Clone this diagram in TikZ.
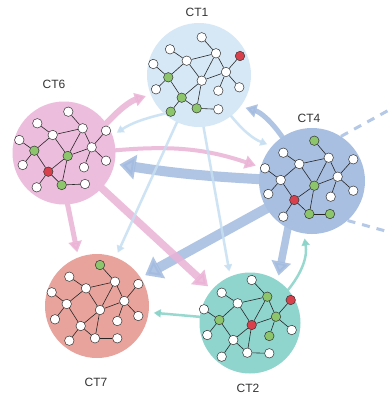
\documentclass[tikz,border=0pt]{standalone}
\usepackage{fontspec}
\setmainfont{Liberation Sans}
\usetikzlibrary{arrows.meta}
\pgfdeclarelayer{back}
\pgfdeclarelayer{bg}
\pgfsetlayers{back,bg,main}
\definecolor{cta}{HTML}{D6E8F6}
\definecolor{ctf}{HTML}{EDBDDD}
\definecolor{ctd}{HTML}{A8BFE1}
\definecolor{ctg}{HTML}{E8A39C}
\definecolor{ctb}{HTML}{8FD4CD}
\definecolor{netgreen}{HTML}{8CC56B}
\definecolor{netred}{HTML}{D8414B}
\definecolor{apink}{HTML}{EBB2D6}
\definecolor{ablue}{HTML}{A3BBE0}
\definecolor{alight}{HTML}{C6DFF2}
\definecolor{ateal}{HTML}{86D2C7}
\definecolor{labelgray}{HTML}{333333}
\newcommand\netedges[1]{\foreach \a/\b in {T/A,UL/B,B/A,B/LH,B/C,A/C,A/RH,RT/RH,RH/C,RH/MB,RH/RB,FL/LH,LH/LL,LH/LoH,LoH/C,C/BM,LoH/BL,LoH/BM,BM/BR}{\draw[netedge] (#1\a) -- (#1\b);}}
\newcommand\netnodes[2]{\foreach \n/\x/\y/\c in {#2}{\node[netnode, fill=\c] (#1\n) at (\x,\y) {};}}
\begin{document}
\begin{tikzpicture}[x=1pt,y=-1pt,
  clusterbox/.style={circle, inner sep=0pt},
  netnode/.style={circle, draw=black!80, line width=0.5pt, minimum size=9.5pt, inner sep=0pt},
  netedge/.style={draw=black!85, line width=0.6pt},
  ctlabel/.style={text=labelgray, font=\fontsize{12}{14}\selectfont, inner sep=0pt},
  conn/.style={opacity=.85, shorten <=-4pt, shorten >=5pt},
  arrthick/.style={conn, line width=10pt, -{Triangle[width=24pt,length=16pt]}},
  arrmid/.style={conn, line width=7.5pt, -{Triangle[width=19pt,length=14pt]}},
  arrmed/.style={conn, line width=5pt, -{Triangle[width=13pt,length=11pt]}},
  arrthin/.style={conn, line width=2.5pt, -{Triangle[width=8pt,length=7pt]}},
  dashline/.style={draw=ablue, opacity=.8, line width=3pt, dash pattern=on 8pt off 7pt}]
\begin{pgfonlayer}{back}
\fill[white] (0,0) rectangle (390,397);
\end{pgfonlayer}
\useasboundingbox (0,0) rectangle (390,397);

% clusters
\node[clusterbox, fill=cta, minimum size=104pt] (CT1) at (199,75) {};
\node[clusterbox, fill=ctf, minimum size=103pt] (CT6) at (64,153) {};
\node[clusterbox, fill=ctd, minimum size=106pt] (CT4) at (312,181) {};
\node[clusterbox, fill=ctg, minimum size=104pt] (CT7) at (97,306) {};
\node[clusterbox, fill=ctb, minimum size=101pt] (CT2) at (250,323) {};

% labels
\node[ctlabel] (L1) at (197,12) {CT1};
\node[ctlabel] (L6) at (54,84) {CT6};
\node[ctlabel] (L4) at (309,118) {CT4};
\node[ctlabel] (L7) at (96,382) {CT7};
\node[ctlabel] (L2) at (248,388) {CT2};

% connectors
\begin{pgfonlayer}{bg}
\draw[arrmed, draw=apink, line width=6pt] (CT6.35) to[bend left=15] (CT1.202);
\draw[arrthin, draw=alight] (CT1.228) to[bend right=10] (CT6.20);
\draw[arrmed, draw=apink, line width=4pt] (CT6.3) to[bend left=12] (CT4.165);
\draw[arrthick, draw=ablue] (CT4.178) to[bend left=3] (CT6.348);
\draw[arrthick, draw=ablue] (CT4.211) -- (CT7.33);
\draw[arrmid, draw=apink] (CT6.317) -- (CT2.139);
\draw[arrmed, draw=apink] (CT6.274) -- (CT7.111);
\draw[arrthin, draw=alight] (CT1.245) -- (CT7.69);
\draw[arrthin, draw=alight] (CT1.275) -- (CT2.113);
\draw[arrthin, draw=alight] (CT1.308) to[bend right=15] (CT4.139);
\draw[arrmed, draw=ablue] (CT4.124) to[bend right=20] (CT1.323);
\draw[arrmid, draw=ablue] (CT4.243) -- (CT2.57);
\draw[arrthin, draw=ateal] (CT2.41) to[bend right=25] (CT4.261);
\draw[arrthin, draw=ateal] (CT2.173) -- (CT7.353);
\coordinate (dashA) at (400,104);
\coordinate (dashB) at (400,235);
\draw[dashline] (CT4.57) -- (dashA);
\draw[dashline] (CT4.312) -- (dashB);
\end{pgfonlayer}

% networks
\netnodes{a}{T/201.7/37.3/white, UL/170/49.3/white, A/216/53.3/white, B/186.7/60.7/white, RT/240/56/netred, FL/153.3/64/white, LH/168.3/77.3/netgreen, RH/226/72/white, C/201.7/80.7/white, LL/156/89.3/white, RB/239.3/87.3/white, MB/218.3/90.7/white, LoH/181.7/97.7/netgreen, BL/170.7/111.7/netgreen, BM/196.7/108.3/netgreen, BR/218.3/109.3/white}
\netedges{a}
\netnodes{f}{T/68.3/111.7/white, UL/37.3/123.3/white, A/82.7/128.3/white, B/52.7/135/white, RT/106/130.7/white, FL/19.3/140/white, LH/34.3/150.7/netgreen, RH/91.7/147.3/white, C/67.7/156/netgreen, LL/22.7/165/white, RB/106/160.7/white, MB/84/167.3/white, LoH/48.3/171.7/netred, BL/36.7/187.3/white, BM/61.7/185/netgreen, BR/85/184/white}
\netedges{f}
\netnodes{d}{T/314.3/140.7/netgreen, UL/283.3/152.7/white, A/328.7/157.7/white, B/299.3/164/white, RT/353.3/159.3/white, FL/265/168.3/white, LH/280.7/180/white, RH/337.7/176.7/white, C/314.3/185.7/netgreen, LL/268.3/194/white, RB/353.3/190.7/white, MB/330.7/196.7/white, LoH/294.3/200/netred, BL/283.3/216.7/white, BM/309.3/214/netgreen, BR/330/214/netgreen}
\netedges{d}
\netnodes{g}{T/100/265/netgreen, UL/69.3/276.7/white, A/115/281.7/white, B/86/288.3/white, RT/138.3/284/white, FL/51.7/292.3/white, LH/66.7/304/white, RH/124.3/301/white, C/100/310/white, LL/55/319.3/white, RB/138.3/316/white, MB/117.3/321/white, LoH/80.7/326/white, BL/69.3/340.7/white, BM/95/338.3/white, BR/117.3/338.3/white}
\netedges{g}
\netnodes{b}{T/251.7/280/white, UL/221.7/292.7/white, A/267.3/296.7/netgreen, B/237.7/303.3/white, RT/290.7/300/netred, FL/204/309.3/white, LH/219.3/320/netgreen, RH/276/316.7/netgreen, C/251.7/325/netred, LL/207.3/335/white, RB/291.7/330/white, MB/269.3/336/netgreen, LoH/233.3/340/white, BL/221.7/356.7/white, BM/247.3/352.7/white, BR/269.3/353.3/white}
\netedges{b}
\end{tikzpicture}
\end{document}
